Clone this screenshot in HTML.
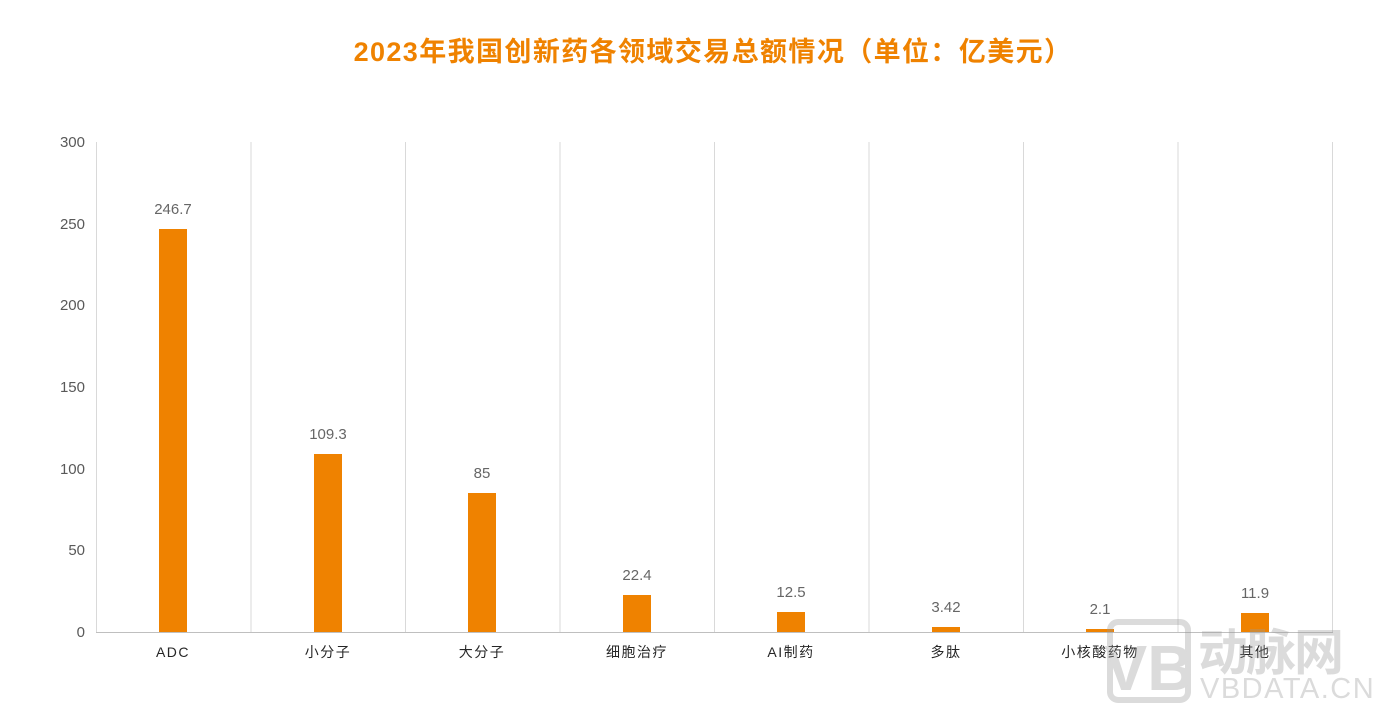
<!DOCTYPE html>
<html><head><meta charset="utf-8"><style>
body{margin:0;background:#fff;}
svg{display:block;font-family:"Liberation Sans","Noto Sans CJK SC",sans-serif;}
</style></head><body>
<svg width="1398" height="719" viewBox="0 0 1398 719" xmlns="http://www.w3.org/2000/svg">
<text x="713" y="61" text-anchor="middle" font-size="27" font-weight="bold" fill="#ef8200" letter-spacing="1.4">2023年我国创新药各领域交易总额情况（单位：亿美元）</text>
<g stroke="#d9d9d9" stroke-width="1">
<line x1="96.5" y1="142" x2="96.5" y2="632"/>
<line x1="251" y1="142" x2="251" y2="632"/>
<line x1="405.5" y1="142" x2="405.5" y2="632"/>
<line x1="560" y1="142" x2="560" y2="632"/>
<line x1="714.5" y1="142" x2="714.5" y2="632"/>
<line x1="869" y1="142" x2="869" y2="632"/>
<line x1="1023.5" y1="142" x2="1023.5" y2="632"/>
<line x1="1178" y1="142" x2="1178" y2="632"/>
<line x1="1332.5" y1="142" x2="1332.5" y2="632"/>
<line x1="96" y1="632.5" x2="1333" y2="632.5" stroke="#bfbfbf"/>
</g>
<g font-size="15" fill="#595959" text-anchor="end">
<text x="85" y="147">300</text>
<text x="85" y="229">250</text>
<text x="85" y="310">200</text>
<text x="85" y="392">150</text>
<text x="85" y="474">100</text>
<text x="85" y="555">50</text>
<text x="85" y="637">0</text>
</g>
<g fill="#ef8200">
<rect x="159" y="229" width="28" height="403"/>
<rect x="314" y="454" width="28" height="178"/>
<rect x="468" y="493" width="28" height="139"/>
<rect x="623" y="595" width="28" height="37"/>
<rect x="777" y="612" width="28" height="20"/>
<rect x="932" y="627" width="28" height="5"/>
<rect x="1086" y="629" width="28" height="3"/>
<rect x="1241" y="613" width="28" height="19"/>
</g>
<g font-size="15" fill="#666" text-anchor="middle">
<text x="173" y="214">246.7</text>
<text x="328" y="439">109.3</text>
<text x="482" y="478">85</text>
<text x="637" y="580">22.4</text>
<text x="791" y="597">12.5</text>
<text x="946" y="612">3.42</text>
<text x="1100" y="614">2.1</text>
<text x="1255" y="598">11.9</text>
</g>
<g font-size="14" fill="#262626" text-anchor="middle" letter-spacing="1.5">
<text x="173" y="657">ADC</text>
<text x="328" y="657">小分子</text>
<text x="482" y="657">大分子</text>
<text x="637" y="657">细胞治疗</text>
<text x="791" y="657">AI制药</text>
<text x="946" y="657">多肽</text>
<text x="1100" y="657">小核酸药物</text>
<text x="1255" y="657">其他</text>
</g>
<g opacity="0.35">
<rect x="1110" y="622" width="78" height="78" rx="8" fill="none" stroke="#999" stroke-width="6"/>
<text x="1149" y="690" text-anchor="middle" font-size="64" font-weight="bold" fill="#999">VB</text>
<text x="1198" y="670" font-size="50" font-weight="bold" fill="#999" letter-spacing="-2">动脉网</text>
<text x="1200" y="698" font-size="29" fill="#999" letter-spacing="1.5">VBDATA.CN</text>
</g>
</svg>
</body></html>
